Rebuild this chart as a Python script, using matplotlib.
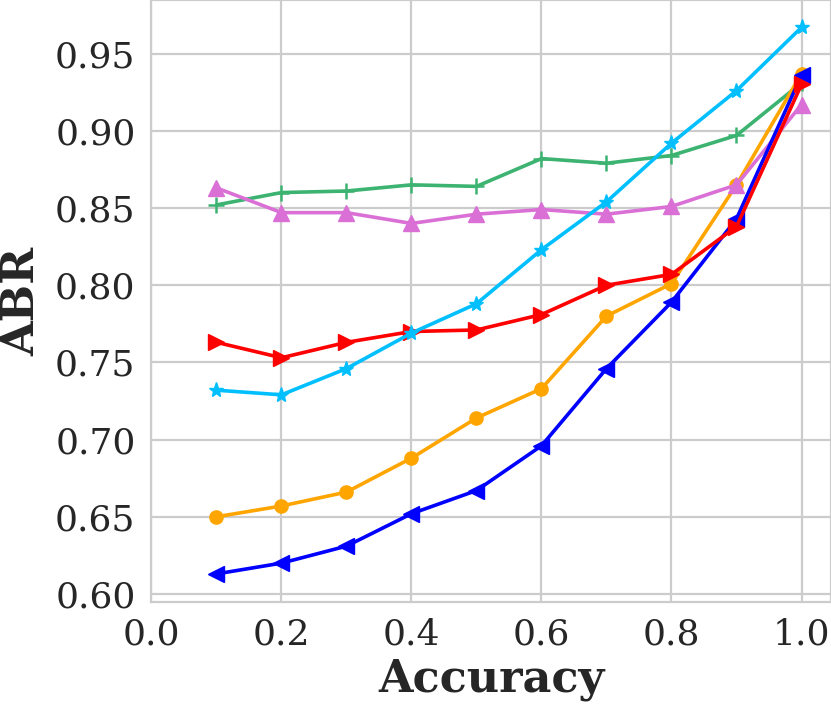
import matplotlib
matplotlib.use('Agg')

import matplotlib.pyplot as plt
import seaborn as sns

# accuracy levels on the x axis
accuracy = [0.1, 0.2, 0.3, 0.4, 0.5, 0.6, 0.7, 0.8, 0.9, 1.0]

# ABR values per series
abr_green = [0.852, 0.860, 0.861, 0.865, 0.864, 0.882, 0.879, 0.884, 0.897, 0.931]
abr_orange = [0.650, 0.657, 0.666, 0.688, 0.714, 0.733, 0.780, 0.801, 0.865, 0.937]
abr_pink = [0.863, 0.847, 0.847, 0.840, 0.846, 0.849, 0.846, 0.851, 0.865, 0.917]
abr_blue = [0.613, 0.620, 0.631, 0.652, 0.667, 0.696, 0.746, 0.789, 0.843, 0.936]
abr_red = [0.763, 0.753, 0.763, 0.770, 0.771, 0.781, 0.800, 0.807, 0.838, 0.930]
abr_cyan = [0.732, 0.729, 0.746, 0.769, 0.788, 0.823, 0.854, 0.892, 0.926, 0.967]

sns.set_style('whitegrid')
plt.rcParams['font.family'] = ['DejaVu Serif']
plt.rcParams['grid.linewidth'] = 1.6
plt.rcParams['axes.linewidth'] = 1.6

fig = plt.figure(figsize=(8.31, 7.09), dpi=100)
ax = fig.add_axes([0.1823, 0.1509, 0.8174, 0.8484])

lw = 2.6
ax.plot(accuracy, abr_green, color='mediumseagreen', marker='+', ms=11, mew=1.8, lw=lw)
ax.plot(accuracy, abr_orange, color='orange', marker='o', ms=9.5, lw=lw)
ax.plot(accuracy, abr_pink, color='orchid', marker='^', ms=11, lw=lw)
ax.plot(accuracy, abr_blue, color='blue', marker='<', ms=11, lw=lw)
ax.plot(accuracy, abr_red, color='red', marker='>', ms=11, lw=lw)
ax.plot(accuracy, abr_cyan, color='deepskyblue', marker='*', ms=11, lw=lw)

ax.set_xlim(0, 1.045)
ax.set_ylim(0.5948, 0.9844)
ax.set_xticks([0.0, 0.2, 0.4, 0.6, 0.8, 1.0])
ax.set_yticks([0.60, 0.65, 0.70, 0.75, 0.80, 0.85, 0.90, 0.95])
ax.tick_params(labelsize=26, colors='.15', pad=8)
for spine in ax.spines.values():
    spine.set_color('.8')

ax.set_xlabel('Accuracy', fontsize=32, fontweight='bold', color='.15', labelpad=4)
ax.set_ylabel('ABR', fontsize=32, fontweight='bold', color='.15', labelpad=8)

fig.savefig('out.png', dpi=100)
